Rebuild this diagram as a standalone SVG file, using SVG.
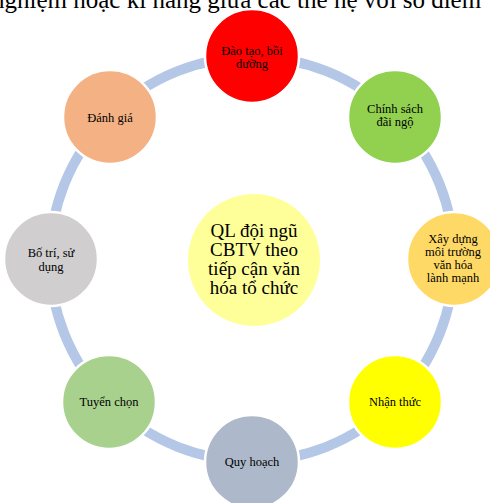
<svg xmlns="http://www.w3.org/2000/svg" width="490" height="503" viewBox="0 0 490 503">
<style>
.node{stroke:#fff;stroke-width:2.5}
.t{font-family:"Liberation Serif","Times New Roman",serif;font-size:12.5px;fill:#000;text-anchor:middle}
.c{font-family:"Liberation Serif","Times New Roman",serif;font-size:19px;fill:#000;text-anchor:middle}
.top{font-family:"Liberation Serif","Times New Roman",serif;font-size:25px;fill:#000}
</style>
<rect width="490" height="503" fill="#fff"/>
<text class="top" x="-8" y="8">nghiệm hoặc kĩ năng giữa các thế hệ với số điểm</text>
<g id="connectors">
<circle cx="252" cy="259" r="202" fill="none" stroke="#B4C7E7" stroke-width="10"/>
</g>
<g id="center">
<circle cx="254" cy="260" r="66" fill="#FFFF99"/>
<text class="c" x="254" y="237">QL đội ngũ</text>
<text class="c" x="254" y="256">CBTV theo</text>
<text class="c" x="254" y="275">tiếp cận văn</text>
<text class="c" x="254" y="294">hóa tổ chức</text>
</g>
<g id="n-daotao">
<circle class="node" cx="252" cy="56" r="47" fill="#FF0000"/>
<text class="t" x="252" y="55">Đào tạo, bồi</text>
<text class="t" x="252" y="68">dưỡng</text>
</g>
<g id="n-chinhsach">
<circle class="node" cx="395" cy="117" r="47" fill="#92D050"/>
<text class="t" x="395" y="113">Chính sách</text>
<text class="t" x="395" y="126">đãi ngộ</text>
</g>
<g id="n-xaydung">
<circle class="node" cx="454" cy="259" r="47" fill="#FFD966"/>
<text class="t" x="453" y="243">Xây dựng</text>
<text class="t" x="453" y="256">môi trường</text>
<text class="t" x="453" y="269">văn hóa</text>
<text class="t" x="453" y="282">lành mạnh</text>
</g>
<g id="n-nhanthuc">
<circle class="node" cx="395" cy="402" r="47" fill="#FFFF00"/>
<text class="t" x="395" y="406">Nhận thức</text>
</g>
<g id="n-quyhoach">
<circle class="node" cx="252" cy="462" r="47" fill="#ADB9CA"/>
<text class="t" x="252" y="466">Quy hoạch</text>
</g>
<g id="n-tuyenchon">
<circle class="node" cx="109" cy="402" r="47" fill="#A9D18E"/>
<text class="t" x="109" y="406">Tuyển chọn</text>
</g>
<g id="n-botri">
<circle class="node" cx="51" cy="259" r="47" fill="#D0CECE"/>
<text class="t" x="51" y="257">Bố trí, sử</text>
<text class="t" x="51" y="271">dụng</text>
</g>
<g id="n-danhgia">
<circle class="node" cx="110" cy="117" r="47" fill="#F4B183"/>
<text class="t" x="110" y="122">Đánh giá</text>
</g>
</svg>
